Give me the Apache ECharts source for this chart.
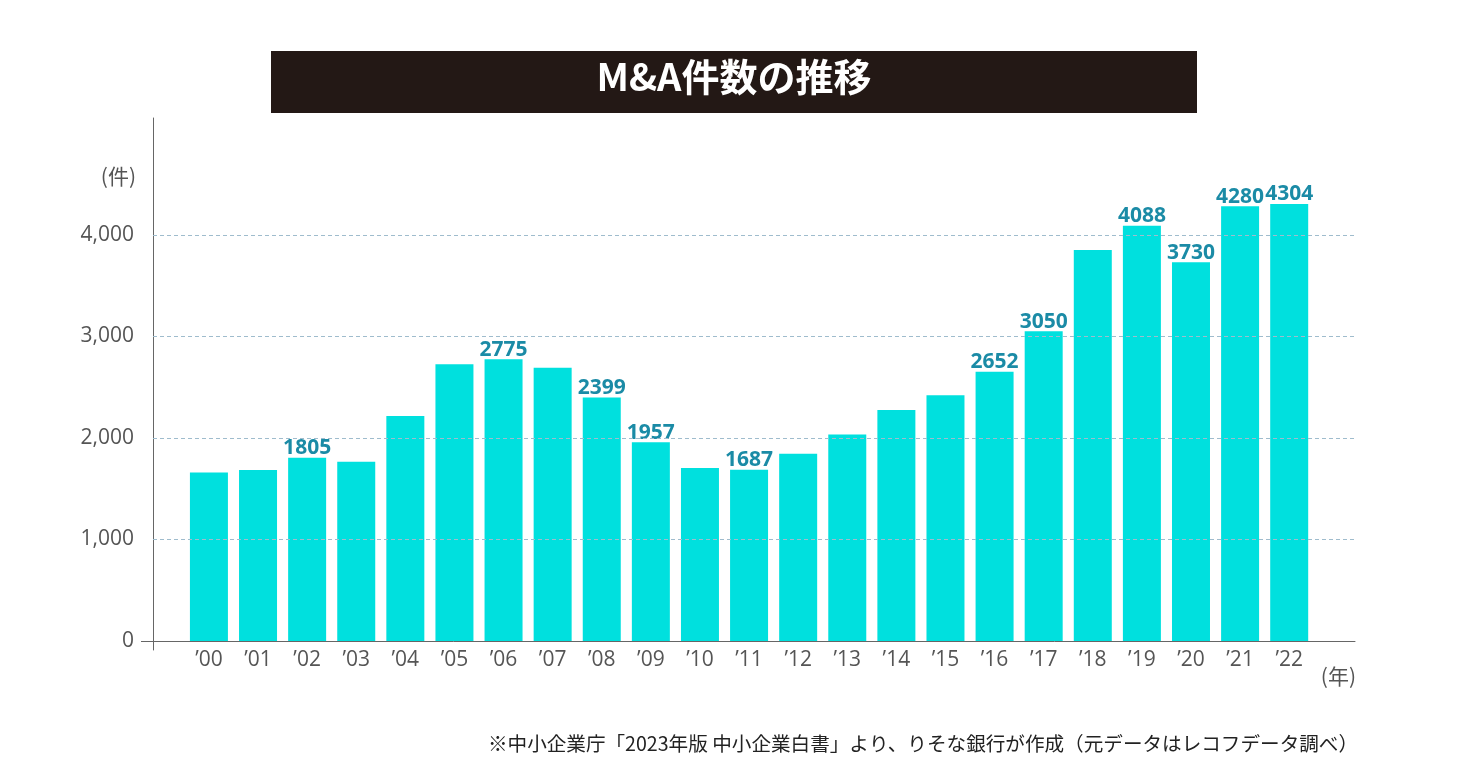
<!DOCTYPE html>
<html>
<head>
<meta charset="utf-8">
<script src="https://cdn.jsdelivr.net/npm/echarts@6/dist/echarts.min.js"></script>
<style>
html,body{margin:0;padding:0;background:#fff;}
#chart{width:1468px;height:770px;}
</style>
</head>
<body>
<div id="chart"></div>
<script>
// ---- data ----
const years = ["’00","’01","’02","’03","’04","’05","’06","’07","’08","’09","’10","’11","’12","’13","’14","’15","’16","’17","’18","’19","’20","’21","’22"];
const counts = [1660,1685,1805,1765,2215,2725,2775,2690,2399,1957,1705,1687,1845,2035,2275,2420,2652,3050,3850,4088,3730,4280,4304];
const labeledYears = ["’02","’06","’08","’09","’11","’16","’17","’19","’20","’21","’22"];
const yTicks = [0,1000,2000,3000,4000];
const gridValues = [1000,2000,3000,4000];
const titleText = "M&A件数の推移";
const yUnit = "(件)";
const xUnit = "(年)";
const note = "※中小企業庁「2023年版 中小企業白書」より、りそな銀行が作成（元データはレコフデータ調べ）";

const numFont = '"Open Sans", "Noto Sans", sans-serif';
const jpFont = '"Noto Sans CJK JP", sans-serif';

const chart = echarts.init(document.getElementById('chart'), null, {renderer:'canvas'});
const option = {
  animation: false,
  backgroundColor: '#ffffff',
  grid: {left: 153, right: 113, top: 118, bottom: 120, containLabel: false},
  title: [
    {text: yUnit, right: 1468 - 136, top: 166, textStyle: {fontFamily: jpFont, fontSize: 21, fontWeight: 'normal', color: '#555'}, padding: 0},
    {text: xUnit, right: 1468 - 1356, top: 666, textStyle: {fontFamily: jpFont, fontSize: 21, fontWeight: 'normal', color: '#555'}, padding: 0},
    {text: note, right: 1468 - 1358, top: 734, textStyle: {fontFamily: jpFont, fontSize: 19.6, fontWeight: 'normal', color: '#222'}, padding: 0}
  ],
  graphic: [
    {type: 'rect', left: 271, top: 51, shape: {width: 926, height: 62}, style: {fill: '#231815'}, z: 10},
    {type: 'text', left: 'center', top: 58, style: {text: titleText, fill: '#fff', font: 'bold 38px "Noto Sans CJK JP", sans-serif'}, z: 11}
  ],
  xAxis: {
    type: 'value',
    min: -1.139,
    max: 23.34,
    splitLine: {show: false},
    axisTick: {show: false},
    axisLine: {show: true, onZero: true, lineStyle: {color: '#666', width: 1}},
    axisLabel: {
      customValues: years.map((y, i) => i),
      formatter: v => years[Math.round(v)] || '',
      color: '#555', fontFamily: numFont, fontSize: 21, margin: 0
    }
  },
  yAxis: {
    type: 'value',
    min: -88,
    max: 5150,
    splitLine: {show: false},
    axisLine: {show: true, onZero: false, lineStyle: {color: '#666', width: 1}},
    axisTick: {show: true, customValues: [0], length: 12, lineStyle: {color: '#666'}},
    axisLabel: {
      customValues: yTicks,
      formatter: v => v.toLocaleString('en-US'),
      color: '#555', fontFamily: numFont, fontSize: 21, margin: 19
    }
  },
  series: [
    {
      type: 'line',
      data: [],
      z: 1,
      silent: true,
      markLine: {
        silent: true,
        symbol: 'none',
        label: {show: false},
        lineStyle: {color: '#9fbccd', type: [4, 3], width: 1},
        data: gridValues.map(v => ({yAxis: v}))
      }
    },
    {
      type: 'bar',
      z: 2,
      barWidth: 38,
      itemStyle: {color: '#00e0de'},
      label: {
        show: false,
        position: 'top',
        distance: -1,
        color: '#1b8ba6',
        fontFamily: numFont,
        fontWeight: 'bold',
        fontSize: 21,
        letterSpacing: -1,
        formatter: p => String(p.value[1])
      },
      data: counts.map((v, i) => ({
        value: [i, v],
        label: {show: labeledYears.includes(years[i])}
      }))
    }
  ]
};
chart.setOption(option);
</script>
</body>
</html>
